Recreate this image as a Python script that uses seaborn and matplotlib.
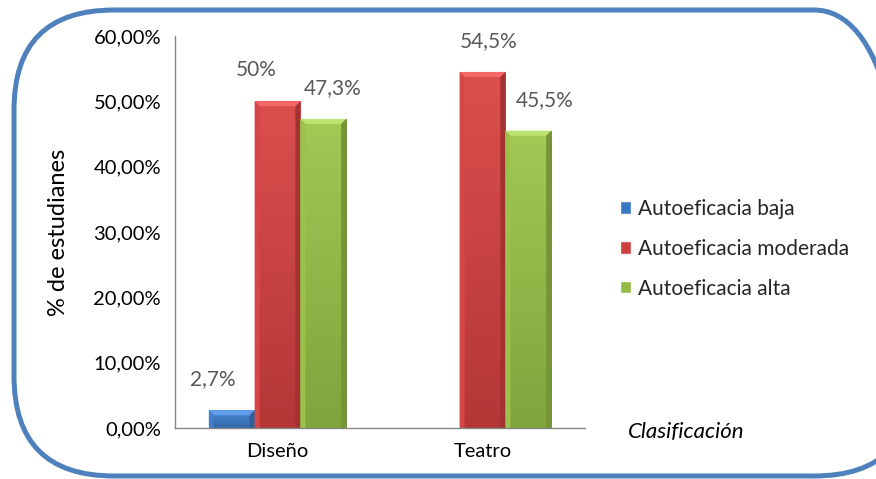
import matplotlib
matplotlib.use("Agg")
import matplotlib.pyplot as plt
import matplotlib.colors as mcolors
import seaborn as sns
import numpy as np
import pandas as pd
from matplotlib.patches import FancyBboxPatch, Polygon
from matplotlib.ticker import FuncFormatter, FixedLocator

# datos
categorias = ["Diseño", "Teatro"]
niveles = ["Autoeficacia baja", "Autoeficacia moderada", "Autoeficacia alta"]
baja = [2.7, 0.0]
moderada = [50.0, 54.5]
alta = [47.3, 45.5]
etiquetas = {
    "Autoeficacia baja": ["2,7%", None],
    "Autoeficacia moderada": ["50%", "54,5%"],
    "Autoeficacia alta": ["47,3%", "45,5%"],
}
y_ticks = [0, 10, 20, 30, 40, 50, 60]

colores = ["#3A77C2", "#CC3F3E", "#92BA45"]
# desplazamiento de las etiquetas (pixeles), como en el original
desp_x = {
    "Autoeficacia baja": [-19, 0],
    "Autoeficacia moderada": [-21, 6],
    "Autoeficacia alta": [9, 16],
}

df = pd.DataFrame({
    "Clasificación": categorias * 3,
    "valor": baja + moderada + alta,
    "nivel": [n for n in niveles for _ in categorias],
})

sns.set_style("white")
plt.rcParams["font.family"] = ["Lato", "DejaVu Sans"]

fig = plt.figure(figsize=(8.76, 4.79), dpi=100)
ax = fig.add_axes([175 / 876, 51 / 479, 410 / 876, 392 / 479])

sns.barplot(data=df, x="Clasificación", y="valor", hue="nivel",
            hue_order=niveles, palette=colores, saturation=1, width=0.67,
            ax=ax, legend=True)

ax.set_xlim(-0.5, 1.5)
ax.set_ylim(0, 60)

# ejes al estilo Excel
gris = "#868686"
for s in ["top", "right"]:
    ax.spines[s].set_visible(False)
for s in ["left", "bottom"]:
    ax.spines[s].set_color(gris)
    ax.spines[s].set_linewidth(1.0)

ax.yaxis.set_major_locator(FixedLocator(y_ticks))
ax.yaxis.set_major_formatter(FuncFormatter(lambda v, p: f"{v:.2f}%".replace(".", ",")))
ax.tick_params(axis="y", direction="out", length=5, color=gris, labelsize=14.5,
               labelcolor="black", pad=5)
ax.tick_params(axis="x", which="major", length=0, labelsize=14.5,
               labelcolor="black", pad=11)
ax.set_xticks([-0.5, 0.5, 1.5], minor=True)
ax.tick_params(axis="x", which="minor", direction="out", length=5, color=gris)

ax.set_ylabel("% de estudianes", fontsize=17, color="black")
ax.yaxis.set_label_coords(-0.285, 0.5)
ax.yaxis.label.set_va("center")
ax.set_xlabel("Clasificación", fontsize=16, style="italic", color="black")
ax.xaxis.set_label_coords(1.246, -0.01)
ax.xaxis.label.set_va("center")

# leyenda
handles, labels = ax.get_legend_handles_labels()
ax.legend(handles, labels, loc="upper left", bbox_to_anchor=(620 / 876, 1 - 199 / 479),
          bbox_transform=fig.transFigure, frameon=False, fontsize=15,
          handlelength=0.55, handleheight=0.55, handletextpad=0.3,
          labelspacing=0.95, borderpad=0, borderaxespad=0)

# relieve de las barras (degradado + bisel superior)
inv = ax.transData.inverted()
for i, cont in enumerate(ax.containers):
    nivel = niveles[i]
    base = np.array(mcolors.to_rgb(colores[i]))
    claro = np.clip(base + 0.06, 0, 1)
    oscuro = base * 0.88
    for j, bar in enumerate(cont):
        h = bar.get_height()
        if h <= 0:
            continue
        x0, w = bar.get_x(), bar.get_width()
        grad = np.linspace(0, 1, 64)[:, None, None]
        img = claro * (1 - grad) + oscuro * grad
        im = ax.imshow(img, extent=(x0, x0 + w, 0, h), aspect="auto",
                       origin="upper", zorder=bar.get_zorder() + 0.1)
        im.set_clip_path(bar)
        # bisel de 5 px en la parte superior
        (px0, py0), (px1, py1) = ax.transData.transform([(x0, 0), (x0 + w, h)])
        b = min(5, (py1 - py0) / 2)
        pts_px = [(px0, py1), (px1, py1), (px1 - b, py1 - b), (px0 + b, py1 - b)]
        pts = inv.transform(pts_px)
        ax.add_patch(Polygon(pts, closed=True, facecolor=np.clip(base + 0.16, 0, 1),
                             edgecolor="none", zorder=bar.get_zorder() + 0.2))
        lados = [[(px0, py0), (px0, py1), (px0 + b, py1 - b), (px0 + b, py0)],
                 [(px1, py0), (px1, py1), (px1 - b, py1 - b), (px1 - b, py0)]]
        for k, lado in enumerate(lados):
            col = np.clip(base + 0.03, 0, 1) if k == 0 else base * 0.8
            ax.add_patch(Polygon(inv.transform(lado), closed=True, facecolor=col,
                                 edgecolor="none", zorder=bar.get_zorder() + 0.2))
        bar.set_edgecolor(base * 0.7)
        bar.set_linewidth(0.6)
        txt = etiquetas[nivel][j]
        if txt:
            ax.annotate(txt, (x0 + w / 2, h), xytext=(desp_x[nivel][j], 31),
                        textcoords="offset pixels", ha="center", va="center",
                        fontsize=15, color="#595959")

# marco redondeado del gráfico (el borde derecho queda fuera de la imagen)
marco = FancyBboxPatch((14, 3), 900, 466, boxstyle="round,pad=0,rounding_size=100",
                       transform=None, facecolor="none", edgecolor="#4F81BD",
                       linewidth=3.6, zorder=10)
fig.add_artist(marco)

fig.savefig("out.png", dpi=100)
plt.close(fig)
